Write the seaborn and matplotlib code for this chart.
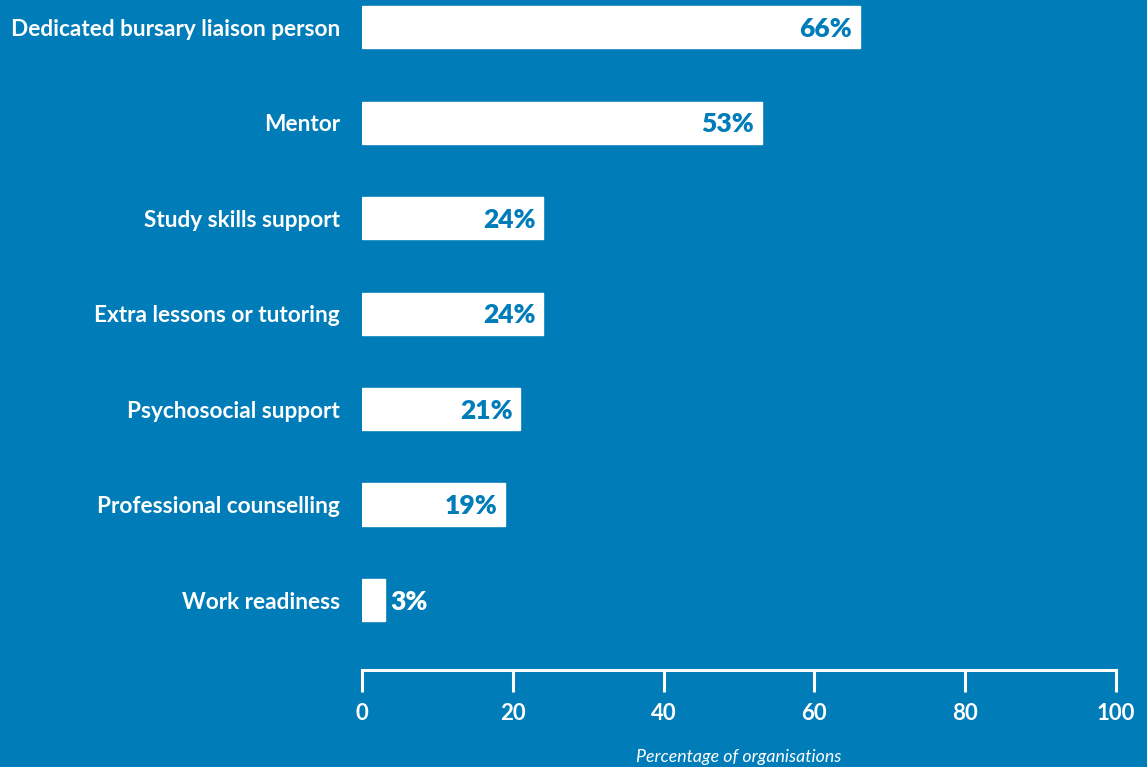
import matplotlib
matplotlib.use("Agg")
import matplotlib.pyplot as plt
import seaborn as sns
import pandas as pd

categories = [
    "Dedicated bursary liaison person",
    "Mentor",
    "Study skills support",
    "Extra lessons or tutoring",
    "Psychosocial support",
    "Professional counselling",
    "Work readiness",
]
values = [66, 53, 24, 24, 21, 19, 3]
x_ticks = [0, 20, 40, 60, 80, 100]
x_label = "Percentage of organisations"

BG = "#007cb8"
WHITE = "#ffffff"

sns.set_theme(style="white")
plt.rcParams["font.family"] = ["Lato", "DejaVu Sans"]

df = pd.DataFrame({"support": categories, "pct": values})

fig = plt.figure(figsize=(11.47, 7.67), dpi=100, facecolor=BG)
ax = fig.add_axes([362 / 1147, 97 / 767, (1116 - 362) / 1147, 670 / 767])
ax.set_facecolor(BG)

sns.barplot(data=df, x="pct", y="support", orient="h", color=WHITE,
            saturation=1, width=0.44, ax=ax)

ax.set_xlim(0, 100)
ax.set_ylim(6.733, -0.283)

for spine in ["top", "right", "left"]:
    ax.spines[spine].set_visible(False)
ax.spines["bottom"].set_color(WHITE)
ax.spines["bottom"].set_linewidth(2.2)

ax.set_xticks(x_ticks)
ax.set_xticklabels([str(t) for t in x_ticks])
ax.tick_params(axis="x", bottom=True, direction="out", length=16, width=2.2,
               color=WHITE, labelcolor=WHITE, labelsize=16, pad=8)
for lbl in ax.get_xticklabels():
    lbl.set_fontweight("bold")
ax.tick_params(axis="y", left=False, length=0, labelcolor=WHITE,
               labelsize=16.3, pad=16)
for lbl in ax.get_yticklabels():
    lbl.set_fontweight("bold")

ax.set_ylabel("")
ax.set_xlabel(x_label, color=WHITE, fontsize=12.8, fontstyle="italic", labelpad=18)

# Value labels: inside the bar end when there is room, otherwise just outside
for i, v in enumerate(values):
    if v >= 10:
        ax.text(v - 1.0, i + 0.02, f"{v}%", ha="right", va="center", color=BG,
                fontsize=19, fontweight="heavy")
    else:
        ax.text(v + 0.8, i + 0.02, f"{v}%", ha="left", va="center", color=WHITE,
                fontsize=19, fontweight="heavy")

fig.savefig("out.png", dpi=100, facecolor=BG)
